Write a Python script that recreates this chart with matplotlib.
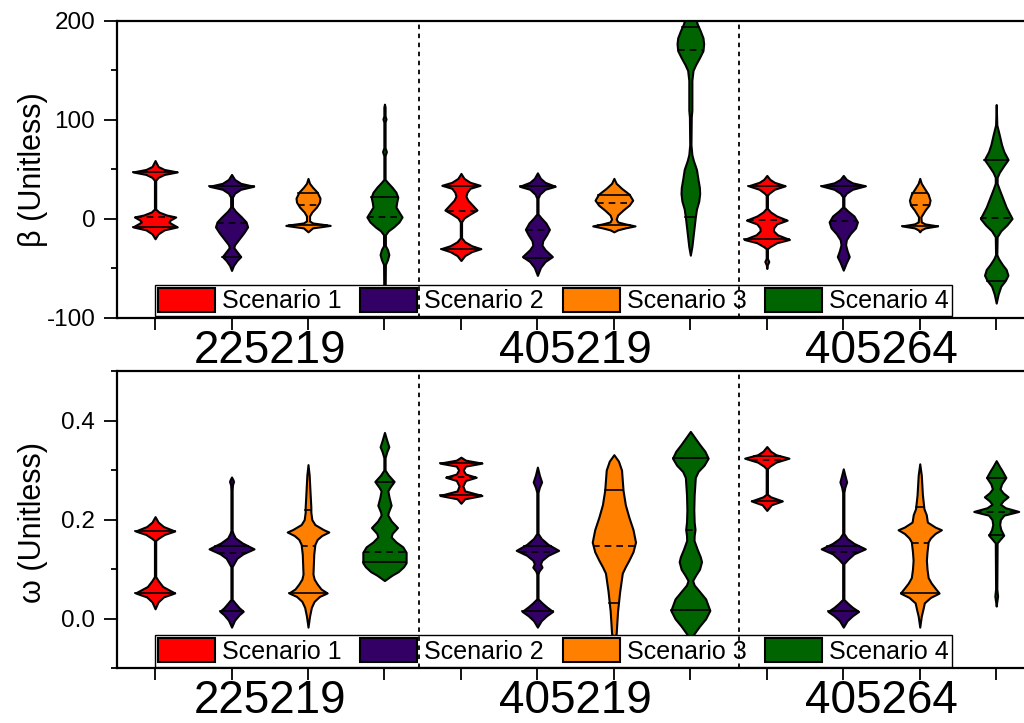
import numpy as np
import matplotlib
matplotlib.use('Agg')
import matplotlib.pyplot as plt
from matplotlib.ticker import MultipleLocator, FormatStrFormatter
from matplotlib.patches import Patch

plt.rcParams['font.family'] = ['Liberation Sans', 'DejaVu Sans']
plt.rcParams['axes.unicode_minus'] = False

groups = ['225219', '405219', '405264']
scenarios = ['Scenario 1', 'Scenario 2', 'Scenario 3', 'Scenario 4']
colors = ['#FF0000', '#330066', '#FF8000', '#006400']
positions = [1, 2, 3, 4, 5, 6, 7, 8, 9, 10, 11, 12]
separators = [4.45, 8.64]

# ---------------- beta panel: violin outlines (value, half-width) ----------------
b_225219_s1 = [(59,0),(53,0.04),(50,0.12),(47.5,0.29),(45,0.12),(42,0.04),(39,0.008),(10,0.008),(7,0.05),(4,0.15),(2,0.27),(-1,0.2),(-3,0.18),(-5,0.22),(-8,0.29),(-11,0.12),(-15,0.04),(-20,0)]
b_225219_s2 = [(45,0),(40,0.04),(36,0.12),(33,0.29),(30,0.12),(26,0.04),(22,0.012),(12,0.012),(8,0.05),(2,0.13),(-3,0.19),(-8,0.21),(-14,0.16),(-20,0.1),(-26,0.04),(-29,0.03),(-33,0.07),(-38,0.12),(-42,0.07),(-47,0.025),(-52,0)]
b_225219_s3 = [(41,0),(36,0.02),(32,0.06),(27,0.12),(21,0.157),(17,0.15),(12,0.11),(7,0.05),(3,0.02),(-2,0.02),(-4,0.06),(-5.5,0.2),(-6.5,0.29),(-7.5,0.2),(-9,0.06),(-13,0)]
b_225219_s4 = [(116,0),(113,0.008),(104,0.008),(101,0.02),(98,0.008),(72,0.008),(68,0.025),(64,0.008),(40,0.008),(37,0.04),(32,0.1),(27,0.15),(22,0.174),(17,0.16),(12,0.15),(7,0.19),(2,0.23),(-3,0.19),(-8,0.12),(-12,0.05),(-16,0.012),(-27,0.012),(-31,0.04),(-36,0.057),(-41,0.04),(-46,0.012),(-80,0.008),(-82,0)]
b_405219_s1 = [(46,0),(41,0.04),(37,0.12),(34,0.25),(31,0.12),(27,0.08),(23,0.065),(19,0.09),(14,0.15),(9,0.21),(5,0.12),(1,0.04),(-3,0.008),(-19,0.008),(-23,0.05),(-27,0.14),(-30,0.26),(-33,0.14),(-37,0.05),(-42,0)]
b_405219_s2 = [(46.6,0),(41,0.04),(37,0.1),(33,0.233),(30,0.1),(25,0.03),(21,0.008),(5,0.008),(1,0.05),(-4,0.11),(-10.5,0.157),(-16,0.12),(-22,0.07),(-26.5,0.06),(-31,0.1),(-38,0.196),(-43,0.1),(-49,0.04),(-57,0)]
b_405219_s3 = [(41,0),(36,0.03),(31,0.1),(25,0.2),(19,0.246),(14,0.2),(9,0.12),(4,0.05),(0,0.03),(-3,0.05),(-5,0.15),(-7,0.277),(-9,0.15),(-11,0.05),(-13,0)]
b_405219_s4 = [(215,0.02),(205,0.06),(197,0.09),(190,0.13),(183,0.165),(177,0.174),(170,0.165),(163,0.12),(156,0.07),(150,0.035),(140,0.02),(110,0.02),(103,0.012),(75,0.008),(65,0.02),(59,0.04),(50,0.08),(40,0.1),(32,0.118),(25.7,0.122),(18,0.11),(10,0.08),(2,0.065),(-8,0.05),(-18,0.035),(-28,0.02),(-36.6,0)]
b_405264_s1 = [(44,0),(40,0.04),(37,0.1),(33.5,0.24),(30,0.1),(26,0.03),(24,0.008),(10.6,0.008),(7,0.05),(3,0.13),(-1.2,0.266),(-5,0.13),(-9,0.09),(-12,0.087),(-16,0.14),(-20.7,0.296),(-24,0.13),(-28,0.04),(-30,0.008),(-40,0.008),(-43,0.026),(-46,0.008),(-50,0)]
b_405264_s2 = [(44,0),(40,0.04),(36.5,0.12),(33.5,0.29),(30,0.12),(26,0.04),(22.4,0.008),(12,0.008),(8,0.06),(3,0.14),(-3,0.185),(-9,0.16),(-15,0.09),(-21,0.04),(-26,0.03),(-32,0.05),(-38,0.078),(-44,0.04),(-51.7,0)]
b_405264_s3 = [(41,0),(36,0.02),(31,0.06),(25,0.11),(19,0.135),(14,0.12),(9,0.07),(4,0.03),(2,0.015),(-3,0.02),(-5,0.07),(-7,0.233),(-9,0.07),(-11,0.02),(-13,0)]
b_405264_s4 = [(115.6,0),(95,0.008),(85,0.04),(75,0.07),(68,0.1),(60,0.155),(54,0.1),(47,0.04),(42,0.012),(36,0.012),(30,0.04),(22,0.08),(12,0.13),(0.5,0.207),(-6,0.14),(-12,0.06),(-18,0.012),(-36,0.008),(-40,0.03),(-46,0.08),(-51,0.13),(-56.8,0.153),(-62,0.12),(-68,0.06),(-76,0.025),(-85,0)]

beta_solid = [[47.5, -8], [33, -38], [26, -6], [22],
              [33.5, -30], [33, -39], [24, -6], [194, 1.5],
              [33.5, -20.7], [33.5], [26.7, -7], [60, -62.5]]
beta_dashed = [[1.5], [-3.6], [14], [1.5],
               [8], [-11], [16], [171],
               [-1], [-2], [14], [0.5]]

# ---------------- omega panel: violin outlines (value, half-width) ----------------
w_225219_s1 = [(0.206,0),(0.195,0.04),(0.186,0.11),(0.177,0.257),(0.17,0.12),(0.163,0.05),(0.158,0.008),(0.085,0.008),(0.077,0.04),(0.065,0.1),(0.052,0.257),(0.044,0.11),(0.034,0.04),(0.02,0)]
w_225219_s2 = [(0.286,0),(0.28,0.02),(0.277,0.026),(0.27,0.012),(0.26,0.008),(0.178,0.008),(0.172,0.02),(0.163,0.05),(0.153,0.14),(0.141,0.294),(0.131,0.15),(0.122,0.07),(0.114,0.04),(0.105,0.008),(0.039,0.008),(0.031,0.05),(0.022,0.1),(0.015,0.153),(0.008,0.1),(-0.003,0.04),(-0.017,0)]
w_225219_s3 = [(0.311,0),(0.29,0.015),(0.26,0.025),(0.225,0.037),(0.215,0.037),(0.2,0.05),(0.19,0.09),(0.18,0.2),(0.175,0.272),(0.168,0.18),(0.16,0.12),(0.15,0.09),(0.13,0.075),(0.11,0.07),(0.09,0.065),(0.08,0.08),(0.07,0.12),(0.06,0.17),(0.052,0.25),(0.045,0.15),(0.035,0.08),(0.023,0.044),(0.005,0.02),(-0.017,0)]
w_225219_s4 = [(0.376,0),(0.36,0.03),(0.347,0.057),(0.337,0.03),(0.325,0.008),(0.3,0.008),(0.29,0.05),(0.277,0.126),(0.265,0.07),(0.258,0.044),(0.245,0.06),(0.229,0.087),(0.215,0.05),(0.209,0.044),(0.197,0.09),(0.184,0.17),(0.172,0.1),(0.165,0.087),(0.155,0.15),(0.145,0.24),(0.134,0.283),(0.113,0.283),(0.105,0.25),(0.095,0.18),(0.088,0.1),(0.077,0)]
w_405219_s1 = [(0.326,0),(0.32,0.06),(0.314,0.275),(0.308,0.06),(0.3,0.03),(0.292,0.06),(0.2855,0.2),(0.279,0.06),(0.268,0.025),(0.258,0.05),(0.2487,0.275),(0.242,0.05),(0.233,0)]
w_405219_s2 = [(0.306,0),(0.29,0.025),(0.276,0.055),(0.265,0.025),(0.255,0.008),(0.172,0.008),(0.162,0.05),(0.15,0.14),(0.138,0.277),(0.128,0.14),(0.118,0.06),(0.111,0.04),(0.104,0.06),(0.096,0.02),(0.09,0.008),(0.04,0.008),(0.032,0.06),(0.024,0.12),(0.0147,0.2),(0.006,0.12),(-0.004,0.05),(-0.017,0)]
w_405219_s3 = [(0.331,0),(0.318,0.06),(0.3,0.1),(0.259,0.12),(0.23,0.15),(0.205,0.196),(0.18,0.25),(0.1545,0.283),(0.135,0.25),(0.118,0.196),(0.105,0.15),(0.092,0.11),(0.055,0.076),(0.015,0.048),(-0.03,0.03),(-0.04,0)]
w_405219_s4 = [(0.378,0),(0.365,0.06),(0.352,0.12),(0.338,0.19),(0.324,0.233),(0.31,0.18),(0.297,0.1),(0.285,0.065),(0.25,0.05),(0.22,0.045),(0.195,0.05),(0.18,0.061),(0.168,0.05),(0.158,0.048),(0.14,0.09),(0.125,0.13),(0.115,0.146),(0.1,0.12),(0.088,0.07),(0.077,0.03),(0.068,0.05),(0.055,0.12),(0.04,0.2),(0.0167,0.255),(0.0,0.2),(-0.015,0.12),(-0.03,0.05),(-0.045,0)]
w_405264_s1 = [(0.3475,0),(0.338,0.05),(0.331,0.12),(0.324,0.29),(0.316,0.12),(0.308,0.04),(0.303,0.008),(0.251,0.008),(0.246,0.05),(0.2377,0.203),(0.23,0.06),(0.2185,0)]
w_405264_s2 = [(0.3025,0),(0.29,0.02),(0.276,0.044),(0.265,0.02),(0.255,0.008),(0.172,0.008),(0.162,0.05),(0.152,0.14),(0.141,0.288),(0.131,0.14),(0.12,0.06),(0.111,0.008),(0.039,0.008),(0.031,0.06),(0.023,0.12),(0.0147,0.2),(0.006,0.12),(-0.004,0.05),(-0.017,0)]
w_405264_s3 = [(0.3126,0),(0.29,0.02),(0.25,0.035),(0.222,0.055),(0.21,0.085),(0.195,0.1),(0.185,0.2),(0.1795,0.283),(0.172,0.2),(0.163,0.14),(0.155,0.11),(0.135,0.095),(0.118,0.087),(0.1,0.095),(0.083,0.11),(0.072,0.15),(0.062,0.2),(0.0517,0.253),(0.043,0.14),(0.032,0.06),(0.0206,0.044),(0.005,0.02),(-0.017,0)]
w_405264_s4 = [(0.319,0),(0.308,0.04),(0.299,0.076),(0.285,0.126),(0.272,0.07),(0.262,0.05),(0.254,0.09),(0.246,0.155),(0.238,0.09),(0.231,0.055),(0.224,0.12),(0.2165,0.294),(0.209,0.1),(0.2,0.055),(0.19,0.045),(0.18,0.06),(0.1685,0.098),(0.16,0.05),(0.153,0.012),(0.06,0.008),(0.0457,0.018),(0.035,0.008),(0.0255,0)]

omega_solid = [[0.177, 0.052], [0.147, 0.015], [0.22, 0.052], [0.275, 0.114],
               [0.314, 0.249], [0.147, 0.015], [0.26, 0.032], [0.325, 0.0167],
               [0.329, 0.238], [0.147, 0.015], [0.2245, 0.052], [0.285, 0.168]]
omega_dashed = [[], [0.133], [0.147], [0.134],
                [0.2855], [0.134], [0.147], [0.18],
                [0.32], [0.134], [0.152], [0.216]]

beta_profiles = [b_225219_s1, b_225219_s2, b_225219_s3, b_225219_s4,
                 b_405219_s1, b_405219_s2, b_405219_s3, b_405219_s4,
                 b_405264_s1, b_405264_s2, b_405264_s3, b_405264_s4]
omega_profiles = [w_225219_s1, w_225219_s2, w_225219_s3, w_225219_s4,
                  w_405219_s1, w_405219_s2, w_405219_s3, w_405219_s4,
                  w_405264_s1, w_405264_s2, w_405264_s3, w_405264_s4]


def draw_violin(ax, pos, profile, color, solid, dashed):
    ys = np.array([p[0] for p in profile], dtype=float)
    ws = np.array([p[1] for p in profile], dtype=float)
    ax.fill_betweenx(ys, pos - ws, pos + ws, facecolor=color, edgecolor='black',
                     linewidth=1.5, zorder=2)
    order = np.argsort(ys)
    for y in solid:
        w = np.interp(y, ys[order], ws[order])
        ax.plot([pos - w, pos + w], [y, y], color='black', lw=1.2, zorder=3)
    for y in dashed:
        w = np.interp(y, ys[order], ws[order])
        ax.plot([pos - w, pos + w], [y, y], color='black', lw=1.2,
                ls=(0, (4, 3)), zorder=3)


fig = plt.figure(figsize=(10.24, 7.23), dpi=100)
ax1 = fig.add_axes([0.1141, 0.5602, 0.8961, 0.4108])
ax2 = fig.add_axes([0.1141, 0.0757, 0.8961, 0.4112])

panels = [
    (ax1, beta_profiles, beta_solid, beta_dashed, (-100, 200), 100, 50, '%d', 'β (Unitless)', 0.765),
    (ax2, omega_profiles, omega_solid, omega_dashed, (-0.1, 0.5), 0.2, 0.1, '%.1f', 'ω (Unitless)', 0.278),
]

for ax, profiles, solid, dashed, ylim, major, minor, fmt, ylabel, ly in panels:
    for i, pos in enumerate(positions):
        draw_violin(ax, pos, profiles[i], colors[i % 4], solid[i], dashed[i])
    for s in separators:
        ax.axvline(s, color='black', ls=(0, (2.5, 2.5)), lw=1.3, zorder=6)
    ax.set_xlim(0.5, 12.5)
    ax.set_ylim(*ylim)
    ax.set_xticks(positions)
    ax.set_xticklabels([])
    ax.yaxis.set_major_locator(MultipleLocator(major))
    ax.yaxis.set_minor_locator(MultipleLocator(minor))
    ax.yaxis.set_major_formatter(FormatStrFormatter(fmt))
    ax.tick_params(axis='y', which='major', direction='out', length=9.5, width=1.3,
                   labelsize=17.5, pad=6)
    ax.tick_params(axis='y', which='minor', direction='out', length=4.5, width=1.3)
    ax.tick_params(axis='x', which='major', direction='out', length=8.5, width=1.3)
    for sp in ax.spines.values():
        sp.set_linewidth(1.6)
    for g, name in enumerate(groups):
        center = np.mean(positions[g * 4:(g + 1) * 4])
        ax.annotate(name, xy=(center, 0), xycoords=('data', 'axes fraction'),
                    xytext=(0, -8), textcoords='offset points',
                    ha='center', va='top', fontsize=33)
    handles = [Patch(facecolor=c, edgecolor='black', linewidth=1.5) for c in colors]
    leg = ax.legend(handles, scenarios, ncol=4, loc='lower left',
                    bbox_to_anchor=(0.0416, 0.005), borderaxespad=0,
                    frameon=True, fancybox=False, edgecolor='black', framealpha=1,
                    handlelength=2.28, handleheight=1.08, handletextpad=0.28,
                    columnspacing=0.75, borderpad=0.12, fontsize=18)
    leg.get_frame().set_linewidth(1.0)
    leg.set_zorder(5)
    fig.text(33 / 1024, ly, ylabel, rotation=90, ha='center', va='center', fontsize=22)

fig.savefig('out.png', dpi=100)
